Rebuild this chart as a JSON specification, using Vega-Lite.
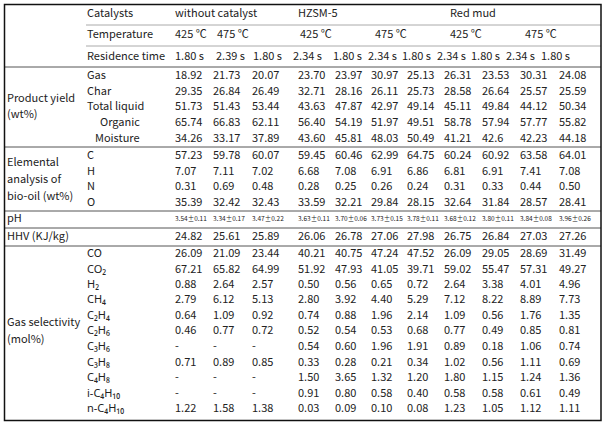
{
  "$schema": "https://vega.github.io/schema/vega-lite/v6.json",
  "width": 611,
  "height": 429,
  "autosize": {"type": "fit", "contains": "padding"},
  "padding": 0,
  "background": "white",
  "config": {"view": {"stroke": null}, "text": {"font": "Noto Sans CJK KR", "fontSize": 11, "color": "#222", "align": "left", "baseline": "middle"}},
  "datasets": {
    "cols": [
      {"c": "a", "x": 175}, {"c": "b", "x": 213}, {"c": "c", "x": 252},
      {"c": "d", "x": 298}, {"c": "e", "x": 335}, {"c": "f", "x": 371}, {"c": "g", "x": 407},
      {"c": "h", "x": 444}, {"c": "i", "x": 482}, {"c": "j", "x": 520}, {"c": "k", "x": 559}
    ],
    "body": [
      {"y": 76, "a": "18.92", "b": "21.73", "c": "20.07", "d": "23.70", "e": "23.97", "f": "30.97", "g": "25.13", "h": "26.31", "i": "23.53", "j": "30.31", "k": "24.08"},
      {"y": 92, "a": "29.35", "b": "26.84", "c": "26.49", "d": "32.71", "e": "28.16", "f": "26.11", "g": "25.73", "h": "28.58", "i": "26.64", "j": "25.57", "k": "25.59"},
      {"y": 107, "a": "51.73", "b": "51.43", "c": "53.44", "d": "43.63", "e": "47.87", "f": "42.97", "g": "49.14", "h": "45.11", "i": "49.84", "j": "44.12", "k": "50.34"},
      {"y": 123, "a": "65.74", "b": "66.83", "c": "62.11", "d": "56.40", "e": "54.19", "f": "51.97", "g": "49.51", "h": "58.78", "i": "57.94", "j": "57.77", "k": "55.82"},
      {"y": 139, "a": "34.26", "b": "33.17", "c": "37.89", "d": "43.60", "e": "45.81", "f": "48.03", "g": "50.49", "h": "41.21", "i": "42.6", "j": "42.23", "k": "44.18"},
      {"y": 156, "a": "57.23", "b": "59.78", "c": "60.07", "d": "59.45", "e": "60.46", "f": "62.99", "g": "64.75", "h": "60.24", "i": "60.92", "j": "63.58", "k": "64.01"},
      {"y": 172, "a": "7.07", "b": "7.11", "c": "7.02", "d": "6.68", "e": "7.08", "f": "6.91", "g": "6.86", "h": "6.81", "i": "6.91", "j": "7.41", "k": "7.08"},
      {"y": 187, "a": "0.31", "b": "0.69", "c": "0.48", "d": "0.28", "e": "0.25", "f": "0.26", "g": "0.24", "h": "0.31", "i": "0.33", "j": "0.44", "k": "0.50"},
      {"y": 203, "a": "35.39", "b": "32.42", "c": "32.43", "d": "33.59", "e": "32.21", "f": "29.84", "g": "28.15", "h": "32.64", "i": "31.84", "j": "28.57", "k": "28.41"},
      {"y": 237, "a": "24.82", "b": "25.61", "c": "25.89", "d": "26.06", "e": "26.78", "f": "27.06", "g": "27.98", "h": "26.75", "i": "26.84", "j": "27.03", "k": "27.26"},
      {"y": 254, "a": "26.09", "b": "21.09", "c": "23.44", "d": "40.21", "e": "40.75", "f": "47.24", "g": "47.52", "h": "26.09", "i": "29.05", "j": "28.69", "k": "31.49"},
      {"y": 270, "a": "67.21", "b": "65.82", "c": "64.99", "d": "51.92", "e": "47.93", "f": "41.05", "g": "39.71", "h": "59.02", "i": "55.47", "j": "57.31", "k": "49.27"},
      {"y": 285, "a": "0.88", "b": "2.64", "c": "2.57", "d": "0.50", "e": "0.56", "f": "0.65", "g": "0.72", "h": "2.64", "i": "3.38", "j": "4.01", "k": "4.96"},
      {"y": 300, "a": "2.79", "b": "6.12", "c": "5.13", "d": "2.80", "e": "3.92", "f": "4.40", "g": "5.29", "h": "7.12", "i": "8.22", "j": "8.89", "k": "7.73"},
      {"y": 316, "a": "0.64", "b": "1.09", "c": "0.92", "d": "0.74", "e": "0.88", "f": "1.96", "g": "2.14", "h": "1.09", "i": "0.56", "j": "1.76", "k": "1.35"},
      {"y": 331, "a": "0.46", "b": "0.77", "c": "0.72", "d": "0.52", "e": "0.54", "f": "0.53", "g": "0.68", "h": "0.77", "i": "0.49", "j": "0.85", "k": "0.81"},
      {"y": 347, "a": "-", "b": "-", "c": "-", "d": "0.54", "e": "0.60", "f": "1.96", "g": "1.91", "h": "0.89", "i": "0.18", "j": "1.06", "k": "0.74"},
      {"y": 363, "a": "0.71", "b": "0.89", "c": "0.85", "d": "0.33", "e": "0.28", "f": "0.21", "g": "0.34", "h": "1.02", "i": "0.56", "j": "1.11", "k": "0.69"},
      {"y": 378, "a": "-", "b": "-", "c": "-", "d": "1.50", "e": "3.65", "f": "1.32", "g": "1.20", "h": "1.80", "i": "1.15", "j": "1.24", "k": "1.36"},
      {"y": 394, "a": "-", "b": "-", "c": "-", "d": "0.91", "e": "0.80", "f": "0.58", "g": "0.40", "h": "0.58", "i": "0.58", "j": "0.61", "k": "0.49"},
      {"y": 409, "a": "1.22", "b": "1.58", "c": "1.38", "d": "0.03", "e": "0.09", "f": "0.10", "g": "0.08", "h": "1.23", "i": "1.05", "j": "1.12", "k": "1.11"}
    ],
    "ph": [
      {"y": 219, "a": "3.54±0.11", "b": "3.34±0.17", "c": "3.47±0.22", "d": "3.63±0.11", "e": "3.70±0.06", "f": "3.73±0.15", "g": "3.78±0.11", "h": "3.68±0.12", "i": "3.80±0.11", "j": "3.84±0.08", "k": "3.96±0.26"}
    ],
    "cells": [
      {"t": "Catalysts", "x": 87, "y": 14}, {"t": "without catalyst", "x": 175, "y": 14}, {"t": "HZSM-5", "x": 298, "y": 14}, {"t": "Red mud", "x": 450, "y": 14},
      {"t": "Temperature", "x": 87, "y": 35}, {"t": "425 ℃", "x": 175, "y": 35}, {"t": "475 ℃", "x": 217, "y": 35}, {"t": "425 ℃", "x": 300, "y": 35}, {"t": "475 ℃", "x": 375, "y": 35}, {"t": "425 ℃", "x": 450, "y": 35}, {"t": "475 ℃", "x": 525, "y": 35},
      {"t": "Residence time", "x": 87, "y": 57}, {"t": "1.80 s", "x": 175, "y": 57}, {"t": "2.39 s", "x": 216, "y": 57}, {"t": "1.80 s", "x": 253, "y": 57}, {"t": "2.34 s", "x": 293, "y": 57}, {"t": "1.80 s", "x": 333, "y": 57}, {"t": "2.34 s", "x": 368, "y": 57}, {"t": "1.80 s", "x": 402, "y": 57}, {"t": "2.34 s", "x": 437, "y": 57}, {"t": "1.80 s", "x": 471, "y": 57}, {"t": "2.34 s", "x": 506, "y": 57}, {"t": "1.80 s", "x": 541, "y": 57},
      {"t": "Product yield", "x": 7, "y": 99}, {"t": "(wt%)", "x": 7, "y": 115},
      {"t": "Gas", "x": 87, "y": 76}, {"t": "Char", "x": 87, "y": 92}, {"t": "Total liquid", "x": 87, "y": 107}, {"t": "Organic", "x": 100, "y": 123}, {"t": "Moisture", "x": 95, "y": 139},
      {"t": "Elemental", "x": 7, "y": 163}, {"t": "analysis of", "x": 7, "y": 180}, {"t": "bio-oil (wt%)", "x": 7, "y": 197},
      {"t": "C", "x": 87, "y": 156}, {"t": "H", "x": 87, "y": 172}, {"t": "N", "x": 87, "y": 187}, {"t": "O", "x": 87, "y": 203},
      {"t": "pH", "x": 7, "y": 219}, {"t": "HHV (KJ/kg)", "x": 7, "y": 237},
      {"t": "Gas selectivity", "x": 7, "y": 323}, {"t": "(mol%)", "x": 7, "y": 340},
      {"t": "CO", "x": 87, "y": 254}
    ],
    "gases": [
      {"t": "CO₂", "x": 87, "y": 270}, {"t": "H₂", "x": 87, "y": 285}, {"t": "CH₄", "x": 87, "y": 300},
      {"t": "C₂H₄", "x": 87, "y": 316}, {"t": "C₂H₆", "x": 87, "y": 331}, {"t": "C₃H₆", "x": 87, "y": 347}, {"t": "C₃H₈", "x": 87, "y": 363},
      {"t": "C₄H₈", "x": 87, "y": 378}, {"t": "i-C₄H₁₀", "x": 87, "y": 394}, {"t": "n-C₄H₁₀", "x": 87, "y": 409}
    ],
    "lines": [
      {"kind": "header", "x1": 86, "x2": 601, "y": 25},
      {"kind": "header", "x1": 86, "x2": 601, "y": 46},
      {"kind": "section", "x1": 4, "x2": 601, "y": 67},
      {"kind": "section", "x1": 4, "x2": 601, "y": 147},
      {"kind": "section", "x1": 4, "x2": 601, "y": 211},
      {"kind": "section", "x1": 4, "x2": 601, "y": 228},
      {"kind": "section", "x1": 4, "x2": 601, "y": 246}
    ],
    "frame": [{"x1": 4.5, "x2": 601, "y1": 4.5, "y2": 420.5}]
  },
  "layer": [
    {
      "data": {"name": "lines"},
      "transform": [{"filter": "datum.kind == 'header'"}],
      "mark": {"type": "rule", "stroke": "#aaaaaa", "strokeWidth": 1},
      "encoding": {
        "x": {"field": "x1", "type": "quantitative", "scale": {"domain": [0, 611]}, "axis": null},
        "x2": {"field": "x2"},
        "y": {"field": "y", "type": "quantitative", "scale": {"domain": [0, 429], "reverse": true}, "axis": null}
      }
    },
    {
      "data": {"name": "lines"},
      "transform": [{"filter": "datum.kind == 'section'"}],
      "mark": {"type": "rule", "stroke": "#555555", "strokeWidth": 1},
      "encoding": {
        "x": {"field": "x1", "type": "quantitative", "scale": {"domain": [0, 611]}, "axis": null},
        "x2": {"field": "x2"},
        "y": {"field": "y", "type": "quantitative", "scale": {"domain": [0, 429], "reverse": true}, "axis": null}
      }
    },
    {
      "data": {"name": "frame"},
      "mark": {"type": "rect", "fill": null, "fillOpacity": 0, "stroke": "#111111", "strokeWidth": 1.5},
      "encoding": {
        "x": {"field": "x1", "type": "quantitative", "scale": {"domain": [0, 611]}, "axis": null},
        "x2": {"field": "x2"},
        "y": {"field": "y1", "type": "quantitative", "scale": {"domain": [0, 429], "reverse": true}, "axis": null},
        "y2": {"field": "y2"}
      }
    },
    {
      "data": {"name": "cells"},
      "mark": {"type": "text"},
      "encoding": {
        "x": {"field": "x", "type": "quantitative", "scale": {"domain": [0, 611]}, "axis": null},
        "y": {"field": "y", "type": "quantitative", "scale": {"domain": [0, 429], "reverse": true}, "axis": null},
        "text": {"field": "t"}
      }
    },
    {
      "data": {"name": "gases"},
      "mark": {"type": "text", "font": "Noto Sans"},
      "encoding": {
        "x": {"field": "x", "type": "quantitative", "scale": {"domain": [0, 611]}, "axis": null},
        "y": {"field": "y", "type": "quantitative", "scale": {"domain": [0, 429], "reverse": true}, "axis": null},
        "text": {"field": "t"}
      }
    },
    {
      "data": {"name": "body"},
      "transform": [
        {"fold": ["a", "b", "c", "d", "e", "f", "g", "h", "i", "j", "k"], "as": ["c", "t"]},
        {"lookup": "c", "from": {"data": {"name": "cols"}, "key": "c", "fields": ["x"]}}
      ],
      "mark": {"type": "text"},
      "encoding": {
        "x": {"field": "x", "type": "quantitative", "scale": {"domain": [0, 611]}, "axis": null},
        "y": {"field": "y", "type": "quantitative", "scale": {"domain": [0, 429], "reverse": true}, "axis": null},
        "text": {"field": "t"}
      }
    },
    {
      "data": {"name": "ph"},
      "transform": [
        {"fold": ["a", "b", "c", "d", "e", "f", "g", "h", "i", "j", "k"], "as": ["c", "t"]},
        {"lookup": "c", "from": {"data": {"name": "cols"}, "key": "c", "fields": ["x"]}}
      ],
      "mark": {"type": "text", "fontSize": 6.5},
      "encoding": {
        "x": {"field": "x", "type": "quantitative", "scale": {"domain": [0, 611]}, "axis": null},
        "y": {"field": "y", "type": "quantitative", "scale": {"domain": [0, 429], "reverse": true}, "axis": null},
        "text": {"field": "t"}
      }
    }
  ]
}
